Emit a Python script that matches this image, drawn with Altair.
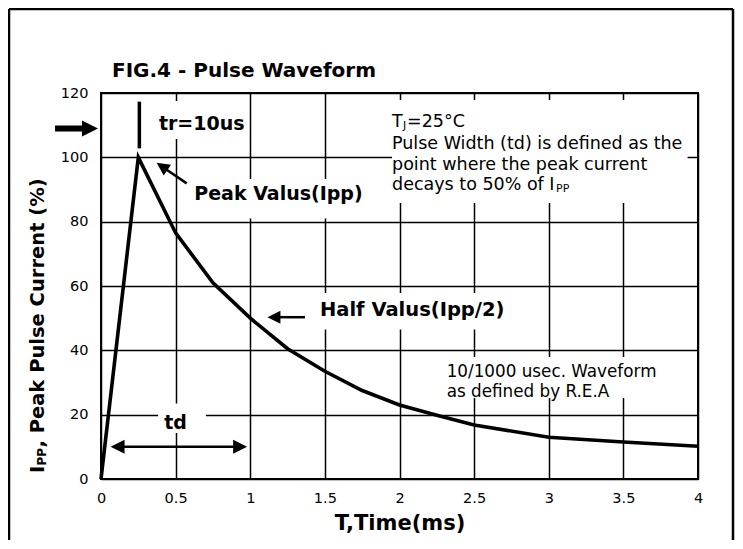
import altair as alt
import pandas as pd

# ---- data ----
time_ms = [0, 0.25, 0.5, 0.75, 1.0, 1.25, 1.5, 1.75, 2.0, 2.25, 2.5, 3.0, 3.5, 4.0]
current_pct = [0, 100, 76.5, 61, 50, 40.5, 33.5, 27.5, 23, 19.8, 16.8, 13, 11.5, 10.2]
x_ticks = [0, 0.5, 1, 1.5, 2, 2.5, 3, 3.5, 4]
y_ticks = [0, 20, 40, 60, 80, 100, 120]

FONT = "DejaVu Sans"

xscale = alt.Scale(domain=[0, 4], nice=False, zero=False)
yscale = alt.Scale(domain=[0, 120], nice=False)
xaxis = alt.Axis(values=x_ticks, format="~g", title="T,Time(ms)", grid=True,
                 ticks=False, tickSize=0, domain=False, labelPadding=12,
                 titlePadding=8, labelFlush=False)
yaxis = alt.Axis(values=y_ticks, title=None, grid=True, ticks=False, tickSize=0,
                 domain=False, labelPadding=13)


def X(f="t"):
    return alt.X(f"{f}:Q", scale=xscale, axis=xaxis)


def Y(f="i"):
    return alt.Y(f"{f}:Q", scale=yscale, axis=yaxis)


curve = alt.Chart(pd.DataFrame({"t": time_ms, "i": current_pct})).mark_line(
    color="black", strokeWidth=3.6
).encode(x=X(), y=Y())

# white boxes behind annotation texts (they interrupt the grid)
boxes = pd.DataFrame({
    "t": [0.38, 0.60, 1.45, 0.383, 1.95, 2.30],
    "t2": [0.98, 1.85, 2.75, 0.703, 3.93, 3.88],
    "i": [105.7, 81.0, 46.5, 14.3, 85.8, 25.2],
    "i2": [117.5, 93.3, 57.8, 23.5, 117.8, 37.9],
})
box_layer = alt.Chart(boxes).mark_rect(color="white").encode(
    x=X(), x2="t2:Q", y=Y(), y2="i2:Q")


def segment(t, t2, i, i2, width):
    df = pd.DataFrame({"t": [t], "t2": [t2], "i": [i], "i2": [i2]})
    return alt.Chart(df).mark_rule(color="black", strokeWidth=width).encode(
        x=X(), x2="t2:Q", y=Y(), y2="i2:Q")


HEAD = "M0,0L-2,-1L-2,1Z"


def head(t, i, angle, size):
    df = pd.DataFrame({"t": [t], "i": [i]})
    return alt.Chart(df).mark_point(
        shape=HEAD, filled=True, size=size, angle=angle, color="black",
        opacity=1, strokeWidth=0).encode(x=X(), y=Y())


def label(text, t, i, size, bold=False, align="left", dx=0, dy=0, line_height=None):
    df = pd.DataFrame({"t": [t], "i": [i]})
    props = dict(font=FONT, fontSize=size, fontWeight="bold" if bold else "normal",
                 align=align, baseline="middle", dx=dx, dy=dy, color="black",
                 text=text)
    if line_height is not None:
        props["lineHeight"] = line_height
    return alt.Chart(df).mark_text(**props).encode(x=X(), y=Y())


def pixel_label(text, px, py, size, bold=True, angle=0, align="left"):
    df = pd.DataFrame({"k": [0]})
    return alt.Chart(df).mark_text(
        font=FONT, fontSize=size, fontWeight="bold" if bold else "normal",
        align=align, baseline="alphabetic", angle=angle, color="black", text=text
    ).encode(x=alt.value(px), y=alt.value(py))


def frame_rule(x, y, x2=None, y2=None):
    enc = {"x": alt.value(x), "y": alt.value(y)}
    if x2 is not None:
        enc["x2"] = alt.value(x2)
    if y2 is not None:
        enc["y2"] = alt.value(y2)
    return alt.Chart(pd.DataFrame({"k": [0]})).mark_rule(
        color="black", strokeWidth=2.5).encode(**enc)


layers = [
    box_layer,
    curve,
    # tr marker
    segment(0.257, 0.257, 102.8, 117.3, 3.5),
    # left outside arrow
    segment(-0.308, -0.08, 109, 109, 6),
    head(-0.02, 109, 0, 256),
    # peak arrow
    segment(0.574, 0.411, 91.9, 97.1, 2.5),
    head(0.373, 98.3, 214.5, 169),
    # half arrow
    segment(1.367, 1.16, 50.3, 50.3, 2.5),
    head(1.115, 50.3, 180, 169),
    # td double arrow
    segment(0.10, 0.94, 10, 10, 2.5),
    head(0.064, 10, 180, 196),
    head(0.979, 10, 0, 196),
    # texts
    label("tr=10us", 0.675, 110.3, 19, bold=True, align="center"),
    label("Peak Valus(Ipp)", 0.625, 88.5, 19, bold=True),
    label("Half Valus(Ipp/2)", 1.467, 52.5, 19.5, bold=True),
    label("td", 0.5, 17.5, 19, bold=True, align="center"),
    label("T", 1.95, 110.9, 17.5),
    label("J", 1.95, 110.9, 11, dx=11, dy=4),
    label("=25°C", 1.95, 110.9, 17.5, dx=15),
    label(["Pulse Width (td) is defined as the", "point where the peak current"],
          1.95, 104.3, 17.5, line_height=21),
    label("decays to 50% of I", 1.95, 91.3, 17.5),
    label("PP", 1.95, 91.3, 11, dx=164, dy=4),
    label(["10/1000 usec. Waveform", "as defined by R.E.A"], 2.316, 33.4, 16.8,
          line_height=20),
    # chart title
    pixel_label("FIG.4 - Pulse Waveform", 11, -16, 20),
    # y axis title with subscript
    pixel_label("I", -57, 380, 19.5, angle=270),
    pixel_label("PP", -55, 372.5, 12, angle=270),
    pixel_label(", Peak Pulse Current (%)", -57, 354.5, 19.5, angle=270),
    # outer figure border
    frame_rule(-92, -84, y2=447),
    frame_rule(-92, -84, x2=632),
    frame_rule(632, -84, y2=447),
]

chart = alt.layer(*layers).properties(
    width=597, height=386,
    autosize=alt.AutoSizeParams(type="none"),
    padding={"left": 93, "top": 85, "right": 37, "bottom": 62},
).configure_view(
    stroke="black", strokeWidth=2
).configure_axis(
    gridColor="black", gridWidth=1.5, gridOpacity=1,
    labelColor="black", labelFont=FONT, labelFontSize=14.5,
    titleFont=FONT, titleFontSize=21, titleFontWeight="bold", titleColor="black",
)

chart.save("out.html", embed_options={"renderer": "svg", "actions": False})
